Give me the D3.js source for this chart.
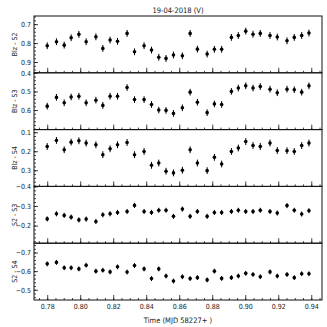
<!DOCTYPE html>
<html>
<head>
<meta charset="utf-8">
<script src="https://cdn.jsdelivr.net/npm/d3@7"></script>
<style>
  body { margin: 0; background: #fff; }
  text { font-family: "DejaVu Sans Condensed", "DejaVu Sans", sans-serif; fill: #222; }
</style>
</head>
<body>
<div class="chart"></div>
<script>
const svgWidth = 327
const svgHeight = 327

let margin = { top: 16, right: 5, bottom: 27, left: 34 }
let width = svgWidth - margin.left - margin.right
let height = svgHeight - margin.top - margin.bottom

// observation times (MJD 58227+)
const times = [0.7800, 0.7856, 0.7903, 0.7945, 0.7992, 0.8036, 0.8095, 0.8137, 0.8181, 0.8226,
  0.8284, 0.8329, 0.8387, 0.8432, 0.8476, 0.8520, 0.8565, 0.8619, 0.8666, 0.8710,
  0.8769, 0.8813, 0.8857, 0.8916, 0.8958, 0.9003, 0.9047, 0.9091, 0.9150, 0.9194,
  0.9253, 0.9297, 0.9342, 0.9386]

const blzS2 = [0.814, 0.793, 0.811, 0.772, 0.754, 0.793, 0.767, 0.828, 0.784, 0.791,
  0.749, 0.846, 0.814, 0.837, 0.875, 0.881, 0.863, 0.867, 0.749, 0.832,
  0.858, 0.833, 0.833, 0.770, 0.760, 0.737, 0.753, 0.749, 0.760, 0.768,
  0.788, 0.770, 0.760, 0.747]

const blzS3 = [0.579, 0.532, 0.561, 0.530, 0.526, 0.561, 0.547, 0.575, 0.526, 0.526,
  0.479, 0.544, 0.544, 0.570, 0.600, 0.602, 0.618, 0.588, 0.504, 0.558,
  0.614, 0.567, 0.570, 0.500, 0.482, 0.470, 0.482, 0.474, 0.488, 0.507,
  0.488, 0.491, 0.504, 0.470]

const blzS4 = [0.175, 0.143, 0.192, 0.152, 0.145, 0.157, 0.166, 0.218, 0.187, 0.166,
  0.154, 0.218, 0.201, 0.274, 0.262, 0.305, 0.314, 0.300, 0.192, 0.262,
  0.302, 0.232, 0.267, 0.201, 0.183, 0.149, 0.170, 0.175, 0.157, 0.196,
  0.197, 0.201, 0.170, 0.157]

const s2S3 = [-0.234, -0.260, -0.252, -0.243, -0.229, -0.233, -0.221, -0.255, -0.260, -0.267,
  -0.272, -0.303, -0.272, -0.267, -0.278, -0.278, -0.247, -0.284, -0.247, -0.272,
  -0.247, -0.267, -0.267, -0.272, -0.278, -0.272, -0.272, -0.278, -0.272, -0.264,
  -0.302, -0.278, -0.259, -0.276]

const s2S4 = [-0.639, -0.647, -0.618, -0.618, -0.612, -0.632, -0.600, -0.605, -0.596, -0.623,
  -0.595, -0.630, -0.612, -0.560, -0.612, -0.574, -0.547, -0.570, -0.560, -0.565,
  -0.553, -0.600, -0.561, -0.565, -0.574, -0.588, -0.582, -0.570, -0.596, -0.574,
  -0.582, -0.565, -0.586, -0.586]

const panelLabels = ["Blz - S2", "Blz - S3", "Blz - S4", "S2 - S3", "S2 - S4"]
const panelValues = [blzS2, blzS3, blzS4, s2S3, s2S4]
const panelErrors = [0.018, 0.018, 0.018, 0.013, 0.013]
const panelDomains = [[0.657, 0.957], [0.4, 0.705], [0.086, 0.385], [-0.4, -0.11], [-0.75, -0.445]]
const panelTicks = [[0.7, 0.8, 0.9], [0.4, 0.5, 0.6], [0.1, 0.2, 0.3], [-0.4, -0.3, -0.2], [-0.7, -0.6, -0.5]]
const xTicks = [0.78, 0.80, 0.82, 0.84, 0.86, 0.88, 0.90, 0.92, 0.94]

let svg = d3.select(".chart").append("svg")
  .attr("width", svgWidth)
  .attr("height", svgHeight)

let chartGroup = svg.append("g")
  .attr("transform", `translate(${margin.left}, ${margin.top})`)

let xScale = d3.scaleLinear().domain([0.772, 0.9465]).range([0, width])
let panelH = height / panelValues.length
let fmt = d3.format(".1f")

panelValues.forEach((vals, i) => {
  let g = chartGroup.append("g")
    .attr("transform", `translate(0, ${i * panelH})`)

  let yScale = d3.scaleLinear().domain(panelDomains[i]).range([0, panelH])
  let data = times.map((t, j) => ({ t: t, v: vals[j] }))
  let err = panelErrors[i]

  // x ticks, inward at bottom of each panel
  let xAxis = g.append("g")
    .attr("transform", `translate(0, ${panelH})`)
    .call(d3.axisBottom(xScale).tickValues(xTicks).tickSize(-5)
      .tickFormat(i === panelValues.length - 1 ? d3.format(".2f") : ""))
  let xMinor = g.append("g")
    .attr("transform", `translate(0, ${panelH})`)
    .call(d3.axisBottom(xScale).tickValues(d3.range(0.775, 0.9465, 0.005)).tickSize(-2).tickFormat(""))

  let yAxis = g.append("g")
    .call(d3.axisLeft(yScale).tickValues(panelTicks[i]).tickSize(-4).tickFormat(fmt).tickPadding(3))
  let yMinor = g.append("g")
    .call(d3.axisLeft(yScale).tickValues(d3.range(Math.ceil(panelDomains[i][0] * 50) / 50, panelDomains[i][1], 0.02))
      .tickSize(-2).tickFormat(""))

  ;[xAxis, xMinor, yAxis, yMinor].forEach(a => {
    a.select(".domain").remove()
    a.selectAll("line").attr("stroke", "#111").attr("stroke-width", 0.8)
  })
  xAxis.selectAll("text").attr("font-size", "7px").attr("dy", "0.9em").attr("y", 3).attr("fill", "#222")
  yAxis.selectAll("text").attr("font-size", "7px").attr("fill", "#222")

  // panel frame
  g.append("rect")
    .attr("width", width)
    .attr("height", panelH)
    .attr("fill", "none")
    .attr("stroke", "#111")
    .attr("stroke-width", 1)

  // error bars
  g.selectAll(".err").data(data).enter()
    .append("line")
    .attr("x1", d => xScale(d.t))
    .attr("x2", d => xScale(d.t))
    .attr("y1", d => yScale(d.v - err))
    .attr("y2", d => yScale(d.v + err))
    .attr("stroke", "#000")
    .attr("stroke-width", 1)

  g.selectAll(".pt").data(data).enter()
    .append("circle")
    .attr("cx", d => xScale(d.t))
    .attr("cy", d => yScale(d.v))
    .attr("r", 1.8)
    .attr("fill", "#000")

  svg.append("text")
    .attr("transform", `translate(15, ${margin.top + i * panelH + panelH / 2}) rotate(-90)`)
    .attr("text-anchor", "middle")
    .attr("dy", "0.35em")
    .attr("font-size", "7px")
    .text(panelLabels[i])
})

svg.append("text")
  .attr("x", margin.left + width / 2)
  .attr("y", 10)
  .attr("text-anchor", "middle")
  .attr("dy", "0.35em")
  .attr("font-size", "7.5px")
  .text("19-04-2018  (V)")

svg.append("text")
  .attr("x", margin.left + width / 2)
  .attr("y", 320)
  .attr("text-anchor", "middle")
  .attr("dy", "0.35em")
  .attr("font-size", "7.5px")
  .text("Time (MJD 58227+ )")
</script>
</body>
</html>
